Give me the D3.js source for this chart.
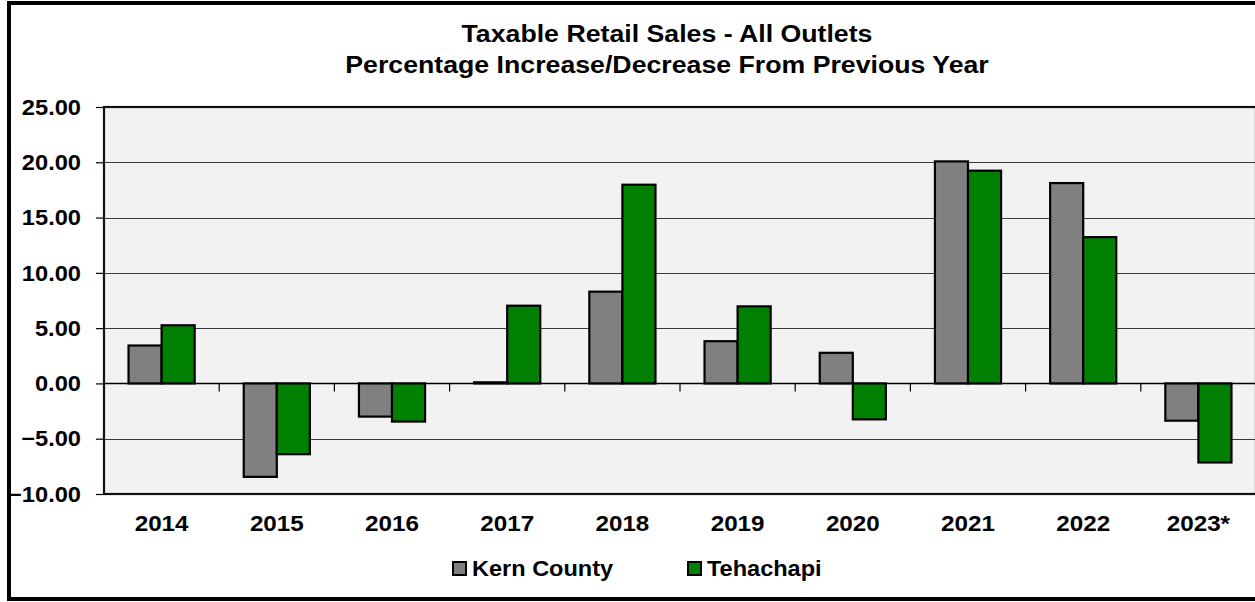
<!DOCTYPE html>
<html>
<head>
<meta charset="utf-8">
<script src="https://cdn.jsdelivr.net/npm/d3@7"></script>
<style>
  body { margin: 0; background: #fff; }
  text { font-family: Arial, "Liberation Sans", sans-serif; font-weight: bold; fill: #000; }
</style>
</head>
<body>
<div id="chart"></div>
<script>
// ------------------- //
// DATA
// ------------------- //
var years = ["2014", "2015", "2016", "2017", "2018", "2019", "2020", "2021", "2022", "2023*"]
var seriesNames = ["Kern County", "Tehachapi"]
var kernCounty = [3.43, -8.45, -3.0, 0.1, 8.3, 3.82, 2.77, 20.08, 18.12, -3.37]
var tehachapi = [5.26, -6.4, -3.45, 7.03, 17.97, 6.97, -3.25, 19.24, 13.23, -7.15]
var yTicks = [-10, -5, 0, 5, 10, 15, 20, 25]
var titleLines = ["Taxable Retail Sales - All Outlets", "Percentage Increase/Decrease From Previous Year"]

var colors = ["#808080", "#008000"]

// build rows for the grouped bars
var rows = years.map(function(y, i) {
  return { year: y, values: [kernCounty[i], tehachapi[i]] }
})

// ------------------- //
// SVG
// ------------------- //
var W = 1255, H = 602
var plot = {left: 104, right: 1256, top: 107, bottom: 494}

var svg = d3.select("#chart")
  .append("svg")
    .attr("width", W)
    .attr("height", H)

// the original text is a bit wider than the font, so stretch it horizontally
function stretchText(sel, sx) {
  sel.attr("transform", function(d) {
    var t = d3.select(this)
    return "translate(" + t.attr("data-x") + "," + t.attr("data-y") + ") scale(" + sx + ",1)"
  })
}

// outer frame
svg.append("rect")
  .attr("x", 9).attr("y", 3)
  .attr("width", 1260).attr("height", 596)
  .attr("fill", "#fff")
  .attr("stroke", "#000")
  .attr("stroke-width", 4)

// ------------------- //
// SCALES
// ------------------- //
var x = d3.scaleBand()
  .domain(years)
  .range([plot.left, plot.right])

var xSub = d3.scaleBand()
  .domain(seriesNames)
  .range([x.bandwidth() * 0.213, x.bandwidth() * 0.787])

var y = d3.scaleLinear()
  .domain([-10, 25])
  .range([plot.bottom, plot.top])

// plot background
svg.append("rect")
  .attr("x", plot.left).attr("y", plot.top)
  .attr("width", plot.right - plot.left)
  .attr("height", plot.bottom - plot.top)
  .attr("fill", "#f2f2f2")

// gridlines
svg.append("g")
  .selectAll("line")
  .data(yTicks.filter(function(d){ return d != 0 && d != 25 && d != -10 }))
  .enter()
  .append("line")
    .attr("x1", plot.left).attr("x2", plot.right)
    .attr("y1", function(d){ return Math.round(y(d)) + 0.5 })
    .attr("y2", function(d){ return Math.round(y(d)) + 0.5 })
    .attr("stroke", "#3a3a3a")
    .attr("stroke-width", 1.2)

// y axis (ticks from d3, labels drawn by hand so they can be stretched)
var yAxis = svg.append("g")
  .attr("transform", "translate(" + plot.left + ",0)")
  .call(d3.axisLeft(y).tickValues(yTicks).tickFormat("").tickSize(8))
yAxis.select(".domain").remove()
yAxis.selectAll("line").attr("stroke", "#000").attr("stroke-width", 1.2)

svg.append("g")
  .selectAll("text")
  .data(yTicks)
  .enter()
  .append("text")
    .attr("data-x", 81)
    .attr("data-y", function(d){ return y(d) + 7.7 })
    .attr("text-anchor", "end")
    .style("font-size", "21.5px")
    .text(function(d){ return d3.format(".2f")(d) })
    .call(stretchText, 1.1)

// zero line + category ticks
svg.append("line")
  .attr("x1", plot.left).attr("x2", plot.right)
  .attr("y1", y(0)).attr("y2", y(0))
  .attr("stroke", "#000").attr("stroke-width", 1.5)

svg.append("g")
  .selectAll("line")
  .data(years.slice(1))
  .enter()
  .append("line")
    .attr("x1", function(d){ return x(d) }).attr("x2", function(d){ return x(d) })
    .attr("y1", y(0)).attr("y2", y(0) + 8)
    .attr("stroke", "#000").attr("stroke-width", 1.2)

// bars
var groups = svg.append("g")
  .selectAll("g")
  .data(rows)
  .enter()
  .append("g")
    .attr("transform", function(d){ return "translate(" + x(d.year) + ",0)" })

groups.selectAll("rect")
  .data(function(d){ return d.values.map(function(v, i){ return {key: seriesNames[i], value: v, i: i} }) })
  .enter()
  .append("rect")
    .attr("x", function(d){ return xSub(d.key) })
    .attr("width", xSub.bandwidth())
    .attr("y", function(d){ return y(Math.max(0, d.value)) })
    .attr("height", function(d){ return Math.abs(y(d.value) - y(0)) })
    .attr("fill", function(d){ return colors[d.i] })
    .attr("stroke", "#000")
    .attr("stroke-width", 2.2)

// plot border
svg.append("rect")
  .attr("x", plot.left).attr("y", plot.top)
  .attr("width", plot.right - plot.left)
  .attr("height", plot.bottom - plot.top)
  .attr("fill", "none")
  .attr("stroke", "#111")
  .attr("stroke-width", 2.2)

// x labels
svg.append("g")
  .selectAll("text")
  .data(years)
  .enter()
  .append("text")
    .attr("data-x", function(d){ return x(d) + x.bandwidth() / 2 })
    .attr("data-y", 531)
    .attr("text-anchor", "middle")
    .style("font-size", "22px")
    .text(function(d){ return d })
    .call(stretchText, 1.1)

// title
svg.selectAll(".title")
  .data(titleLines)
  .enter()
  .append("text")
    .attr("class", "title")
    .attr("data-x", 667)
    .attr("data-y", function(d, i){ return 42 + i * 31 })
    .attr("text-anchor", "middle")
    .style("font-size", "23.7px")
    .text(function(d){ return d })
    .call(stretchText, 1.127)

// legend
var legendX = [453, 688]
var legend = svg.selectAll(".legend")
  .data(seriesNames)
  .enter()
  .append("g")
    .attr("class", "legend")
    .attr("transform", function(d, i){ return "translate(" + legendX[i] + ",562)" })
legend.append("rect")
  .attr("width", 13).attr("height", 13)
  .attr("fill", function(d, i){ return colors[i] })
  .attr("stroke", "#000").attr("stroke-width", 2)
legend.append("text")
  .attr("data-x", 19).attr("data-y", 13.5)
  .style("font-size", "22px")
  .text(function(d){ return d })
  .call(stretchText, 1.07)
</script>
</body>
</html>
